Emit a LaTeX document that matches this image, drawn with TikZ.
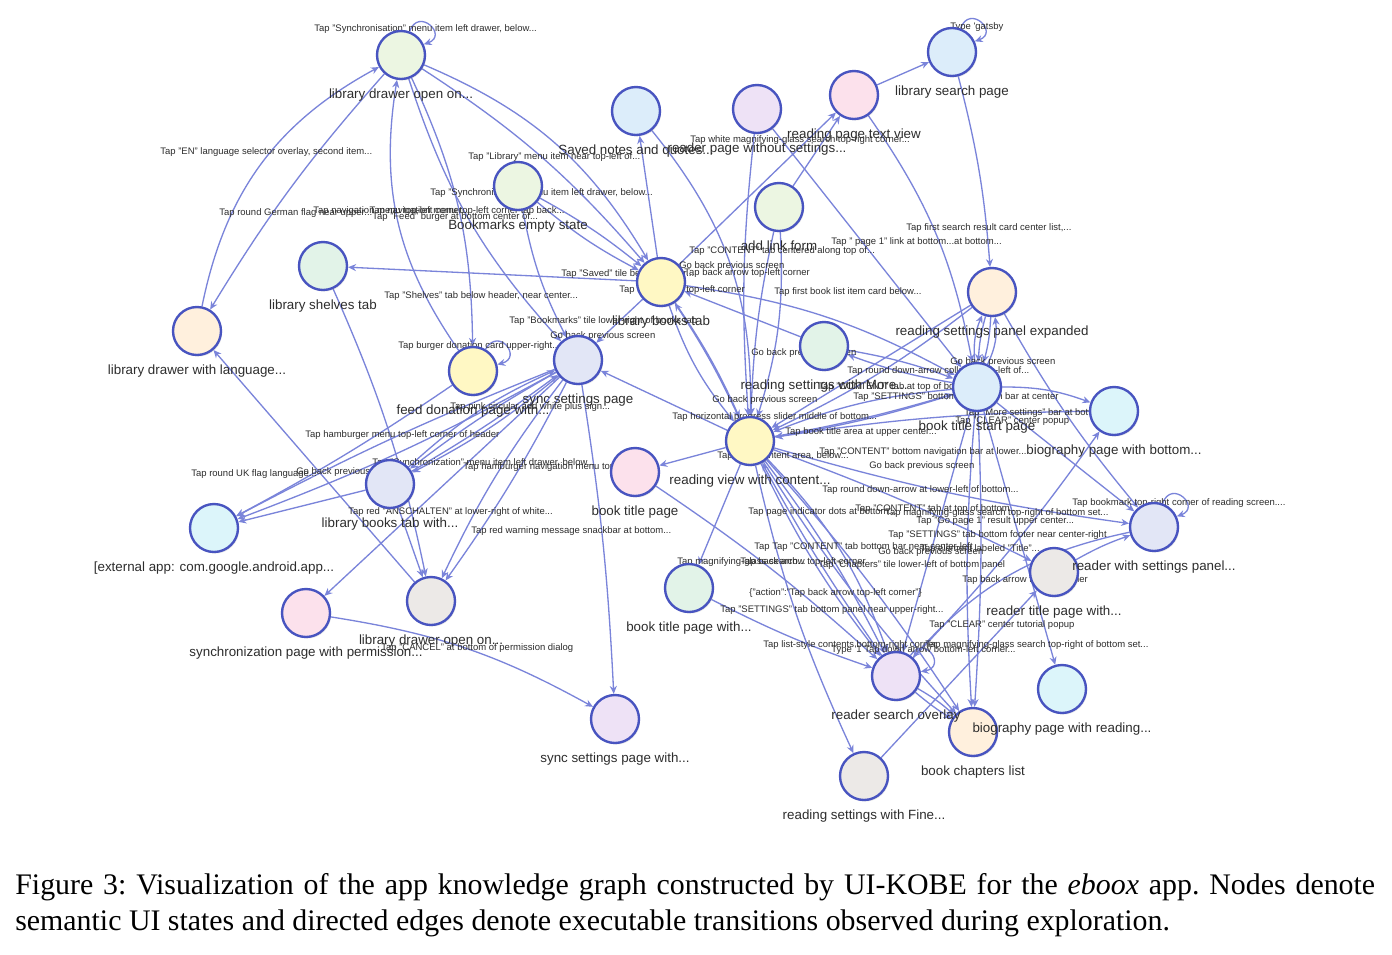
\documentclass[tikz,border=0pt]{standalone}
\usepackage{fontspec}
\setmainfont{Liberation Serif}
\setsansfont{Liberation Sans}
\usetikzlibrary{arrows.meta,positioning,backgrounds,shadows}
\definecolor{edgecol}{RGB}{122,132,218}
\definecolor{nodeborder}{RGB}{72,84,192}
\definecolor{txtgray}{RGB}{45,45,45}
\definecolor{fgreen}{RGB}{236,246,226}
\definecolor{fblue}{RGB}{220,237,250}
\definecolor{flav}{RGB}{238,226,246}
\definecolor{fpink}{RGB}{252,225,236}
\definecolor{fmint}{RGB}{226,243,232}
\definecolor{fyellow}{RGB}{255,248,196}
\definecolor{fpeach}{RGB}{255,240,221}
\definecolor{fperi}{RGB}{226,230,246}
\definecolor{fcyan}{RGB}{220,245,250}
\definecolor{fgrey}{RGB}{236,233,231}

\begin{document}
\begin{tikzpicture}[
    x=0.02cm, y=-0.02cm,
    state/.style={circle, draw=nodeborder, line width=1.35pt, fill=#1, minimum size=0.96cm, inner sep=0pt,
        drop shadow={opacity=0.18, shadow xshift=0.7pt, shadow yshift=-0.9pt}},
    nlab/.style={font=\sffamily\fontsize{7.6}{8}\selectfont, text=txtgray, inner sep=0pt, label distance=4.6pt},
    elab/.style={font=\sffamily\fontsize{5.4}{6}\selectfont, text=txtgray, inner sep=0pt, anchor=west},
    tr/.style={draw=edgecol, line width=0.75pt, -{Stealth[length=4.5pt,width=4pt]}},
    selfloop/.style={tr, looseness=3.5}
]
\useasboundingbox (0,0) rectangle (1392,954);

% States
\node[state=fgreen, label={[nlab]below:{library drawer open on...}}] (drawerA) at (401,55) {};
\node[state=fblue, label={[nlab]below:{Saved notes and quotes...}}] (saved) at (636,111) {};
\node[state=flav, label={[nlab]below:{reader page without settings...}}] (readerNS) at (757,109) {};
\node[state=fpink, label={[nlab]below:{reading page text view}}] (textV) at (854,95) {};
\node[state=fblue, label={[nlab]below:{library search page}}] (searchP) at (952,52) {};
\node[state=fgreen, label={[nlab]below:{Bookmarks empty state}}] (bookmk) at (518,186) {};
\node[state=fgreen, label={[nlab]below:{add link form}}] (addlink) at (779,207) {};
\node[state=fmint, label={[nlab]below:{library shelves tab}}] (shelves) at (323,266) {};
\node[state=fyellow, label={[nlab]below:{library books tab}}] (booksT) at (661,282) {};
\node[state=fpeach, label={[nlab]below:{reading settings panel expanded}}] (panelX) at (992,292) {};
\node[state=fpeach, label={[nlab]below:{library drawer with language...}}] (drawerLang) at (197,331) {};
\node[state=fmint, label={[nlab]below:{reading settings with More...}}] (setMore) at (824,346) {};
\node[state=fperi, label={[nlab]below:{sync settings page}}] (syncS) at (578,360) {};
\node[state=fyellow, label={[nlab]below:{feed donation page with...}}] (donate) at (473,371) {};
\node[state=fblue, label={[nlab]below:{book title start page}}] (titleStart) at (977,387) {};
\node[state=fcyan, label={[nlab]below:{biography page with bottom...}}] (bioBottom) at (1114,411) {};
\node[state=fyellow, label={[nlab]below:{reading view with content...}}] (readView) at (750,441) {};
\node[state=fpink, label={[nlab]below:{book title page}}] (titleP) at (635,472) {};
\node[state=fperi, label={[nlab]below:{library books tab with...}}] (booksWith) at (390,484) {};
\node[state=fcyan, label={[nlab]below:{[external app: com.google.android.app...}}] (extApp) at (214,528) {};
\node[state=fgrey, label={[nlab]below:{reader title page with...}}] (readerTitle) at (1054,572) {};
\node[state=fperi, label={[nlab]below:{reader with settings panel...}}] (readerSet) at (1154,527) {};
\node[state=fmint, label={[nlab]below:{book title page with...}}] (titleWith) at (689,588) {};
\node[state=fpink, label={[nlab]below:{synchronization page with permission...}}] (syncPerm) at (306,613) {};
\node[state=fgrey, label={[nlab]below:{library drawer open on...}}] (drawerB) at (431,601) {};
\node[state=fpeach, label={[nlab]below:{book chapters list}}] (chapters) at (973,732) {};
\node[state=flav, label={[nlab]below:{reader search overlay}}] (searchOv) at (896,676) {};
\node[state=fcyan, label={[nlab]below:{biography page with reading...}}] (bioRead) at (1062,689) {};
\node[state=flav, label={[nlab]below:{sync settings page with...}}] (syncWith) at (615,719) {};
\node[state=fgrey, label={[nlab]below:{reading settings with Fine...}}] (setFine) at (864,776) {};

\begin{scope}[on background layer]
\fill[white] (0,0) rectangle (1392,954);

% Transitions, upper left
\draw[selfloop] (drawerA.70) to[out=70, in=20] (drawerA.25);
\draw[tr] (drawerLang) to[bend left=25] (drawerA);
\draw[tr] (drawerA) to[bend right=5] (drawerLang);
\draw[tr] (donate) to[bend left=22] (drawerA);
\draw[tr] (drawerA) to[bend left=12] (donate);
\draw[tr] (drawerA) to[bend right=12] (syncS);
\draw[tr] (drawerA) to[bend left=8] (booksT);
\draw[tr] (drawerA) to[bend left=18] (booksT);
\draw[tr] (bookmk) to[bend left=5] (booksT);
\draw[tr] (bookmk) to[bend right=6] (booksT);
\draw[tr] (bookmk) to[bend right=8] (syncS);
\draw[tr] (booksT) -- (saved);
\draw[tr] (saved) to[bend left=20] (readView);
\draw[tr] (readerNS) to[bend right=5] (readView);
\draw[tr] (readerNS) -- (titleStart);
\draw[tr] (booksT) -- (textV);
\draw[tr] (addlink) -- (textV);
\draw[tr] (textV) -- (searchP);
\draw[selfloop] (searchP.70) to[out=70, in=20] (searchP.25);
\draw[tr] (searchP) to[bend left=5] (panelX);
\draw[tr] (textV) to[bend left=12] (titleStart);
\draw[tr] (addlink) to[bend right=5] (readView);
\draw[tr] (addlink) to[bend left=10] (readView);
\draw[tr] (booksT) -- (shelves);
\draw[tr] (booksT) -- (syncS);
\draw[tr] (booksT) to[bend left=5] (readView);
\draw[tr] (booksT) to[bend right=10] (readView);
\draw[tr] (readView) to[bend right=4] (booksT);
\draw[tr] (booksT) to[bend left=10] (titleStart);
\draw[tr] (setMore) -- (booksT);

% Transitions, right
\draw[tr] (titleStart) to[bend left=5] (setMore);
\draw[tr] (setMore) to[bend left=5] (titleStart);
\draw[tr] (panelX) to[bend left=6] (titleStart);
\draw[tr] (panelX) to[bend right=6] (titleStart);
\draw[tr] (titleStart) to[bend left=14] (panelX);
\draw[tr] (titleStart) to[bend right=16] (panelX);
\draw[tr] (panelX) -- (readView);
\draw[tr] (panelX) to[bend left=6] (readView);
\draw[tr] (panelX) to[bend right=5] (readerSet);
\draw[tr] (titleStart) to[bend left=10] (bioBottom);
\draw[tr] (bioBottom) to[bend right=4] (readView);
\draw[tr] (searchOv) to[bend right=4] (bioBottom);
\draw[tr] (titleStart) to[bend left=4] (readView);
\draw[tr] (titleStart) to[bend right=8] (readView);
\draw[tr] (readView) to[bend right=3] (titleStart);
\draw[tr] (readView) to[bend right=4] (readerSet);
\draw[tr] (readView) to[bend left=3] (readerTitle);
\draw[tr] (readerTitle) to[bend left=5] (readerSet);
\draw[tr] (titleStart) -- (readerSet);
\draw[selfloop] (readerSet.70) to[out=70, in=20] (readerSet.25);
\draw[tr] (readerSet) to[bend right=18] (searchOv);
\draw[tr] (titleStart) to[bend left=3] (chapters);
\draw[tr] (titleStart) to[bend right=4] (chapters);
\draw[tr] (titleStart) -- (bioRead);
\draw[tr] (titleStart) -- (searchOv);

% Transitions, lower middle
\draw[tr] (readView) -- (syncS);
\draw[tr] (readView) -- (titleP);
\draw[tr] (readView) to[bend left=5] (searchOv);
\draw[tr] (readView) to[bend right=6] (searchOv);
\draw[tr] (readView) to[bend left=12] (searchOv);
\draw[tr] (searchOv) to[bend left=3] (readView);
\draw[tr] (readView) to[bend left=4] (chapters);
\draw[tr] (readView) to[bend right=5] (chapters);
\draw[tr] (readView) to[bend right=6] (setFine);
\draw[tr] (setFine) -- (readerTitle);
\draw[tr] (readView) -- (titleWith);
\draw[tr] (titleWith) to[bend right=4] (searchOv);
\draw[tr] (titleP) to[bend left=4] (searchOv);
\draw[tr] (searchOv) to[bend left=6] (chapters);
\draw[tr] (searchOv) to[bend right=4] (chapters);
\draw[selfloop] (searchOv.55) to[out=55, in=10] (searchOv.10);

% Transitions, lower left
\draw[selfloop] (donate.60) to[out=60, in=15] (donate.15);
\draw[tr] (syncS) to[bend left=4] (extApp);
\draw[tr] (syncS) to[bend right=3] (extApp);
\draw[tr] (booksWith) -- (extApp);
\draw[tr] (donate) to[bend left=3] (extApp);
\draw[tr] (syncS) to[bend right=4] (booksWith);
\draw[tr] (syncS) to[bend left=6] (booksWith);
\draw[tr] (booksWith) to[bend right=3] (syncS);
\draw[tr] (booksWith) to[bend left=9] (syncS);
\draw[tr] (syncS) -- (syncPerm);
\draw[tr] (syncS) to[bend left=4] (drawerB);
\draw[tr] (syncS) to[bend right=6] (drawerB);
\draw[tr] (booksWith) -- (drawerB);
\draw[tr] (drawerB) -- (drawerLang);
\draw[tr] (shelves) to[bend left=6] (drawerB);
\draw[tr] (syncPerm) to[bend left=10] (syncWith);
\draw[tr] (syncS) to[bend left=3] (syncWith);

% Labels
\node[elab] (l1) at (314,29) {Tap "Synchronisation" menu item left drawer, below...};
\node[elab] (l2) at (950,27) {Type \textquotesingle gatsby};
\node[elab] (l3) at (690,140) {Tap white magnifying-glass search top-right corner...};
\node[elab] (l4) at (160,152) {Tap "EN" language selector overlay, second item...};
\node[elab] (l5) at (468,157) {Tap "Library" menu item near top-left of...};
\node[elab] (l6) at (430,193) {Tap "Synchronisation" menu item left drawer, below...};
\node[elab] (l7) at (313,211) {Tap navigation menu top-left corner...};
\node[elab, anchor=east] (l7b) at (565,211) {Tap navigation menu top-left corner tap back...};
\node[elab] (l8) at (219,213) {Tap round German flag near upper...};
\node[elab] (l9) at (372,217) {Tap "Feed" burger at bottom center of...};
\node[elab] (l10) at (906,228) {Tap first search result card center list,...};
\node[elab] (l11) at (831,242) {Tap " page 1" link at bottom...at bottom...};
\node[elab] (l12) at (689,251) {Tap "CONTENT" tab centered along top of...};
\node[elab] (l13) at (679,266) {Go back previous screen};
\node[elab] (l14) at (684,273) {Tap back arrow top-left corner};
\node[elab] (l15) at (561,274) {Tap "Saved" tile below header...};
\node[elab] (l16) at (384,296) {Tap "Shelves" tab below header, near center...};
\node[elab] (l17) at (619,290) {Tap back arrow top-left corner};
\node[elab] (l18) at (774,292) {Tap first book list item card below...};
\node[elab] (l19) at (509,321) {Tap "Bookmarks" tile lower-right of books tab};
\node[elab] (l20) at (550,336) {Go back previous screen};
\node[elab] (l21) at (398,346) {Tap burger donation card upper-right...};
\node[elab] (l22) at (751,353) {Go back previous screen};
\node[elab] (l23) at (847,371) {Tap round down-arrow collapse top-left of...};
\node[elab] (l24) at (950,362) {Go back previous screen};
\node[elab] (l25) at (818,387) {Tap "CONTENT" tab at top of bottom...};
\node[elab] (l26) at (853,397) {Tap "SETTINGS" bottom navigation bar at center};
\node[elab] (l27) at (964,413) {Tap "More settings" bar at bottom...};
\node[elab] (l28) at (955,421) {Tap "CLEAR" center popup};
\node[elab] (l29) at (672,417) {Tap horizontal progress slider middle of bottom...};
\node[elab] (l30) at (785,432) {Tap book title area at upper center...};
\node[elab] (l31) at (712,400) {Go back previous screen};
\node[elab] (l32) at (819,452) {Tap "CONTENT" bottom navigation bar at lower...};
\node[elab] (l33) at (717,456) {Tap book content area, below...};
\node[elab] (l34) at (869,466) {Go back previous screen};
\node[elab] (l35) at (822,490) {Tap round down-arrow at lower-left of bottom...};
\node[elab] (l36) at (748,512) {Tap page indicator dots at bottom...};
\node[elab] (l37) at (855,509) {Tap "CONTENT" tab at top of bottom...};
\node[elab] (l38) at (885,513) {Tap magnifying-glass search top-right of bottom set...};
\node[elab] (l39) at (916,521) {Tap "Go page 1" result upper center...};
\node[elab] (l40) at (888,535) {Tap "SETTINGS" tab bottom footer near center-right};
\node[elab] (l41) at (754,547) {Tap Tap "CONTENT" tab bottom bar near center-left};
\node[elab, anchor=east] (l41b) at (1040,549) {Tap element labeled "Title"...};
\node[elab] (l42) at (878,552) {Go back previous screen};
\node[elab] (l43) at (818,565) {Tap "Chapters" tile lower-left of bottom panel};
\node[elab] (l44) at (962,580) {Tap back arrow top-left corner};
\node[elab] (l45) at (677,562) {Tap magnifying-glass search...};
\node[elab] (l45b) at (740,562) {Tap back arrow top-left corner};
\node[elab] (l46) at (749,593) {\{"action":"Tap back arrow top-left corner"\}};
\node[elab] (l47) at (720,610) {Tap "SETTINGS" tab bottom panel near upper-right...};
\node[elab] (l48) at (929,625) {Tap "CLEAR" center tutorial popup};
\node[elab] (l49) at (763,645) {Tap list-style contents bottom-right corner};
\node[elab] (l50) at (925,645) {Tap magnifying-glass search top-right of bottom set...};
\node[elab] (l51) at (831,650) {Type \textquotesingle 1 Tap down arrow bottom-left corner...};
\node[elab] (l52) at (1072,503) {Tap bookmark top-right corner of reading screen....};
\node[elab] (l53) at (372,463) {Tap "Synchronization" menu item left drawer, below...};
\node[elab] (l54) at (463,467) {Tap hamburger navigation menu top-left...};
\node[elab] (l55) at (296,472) {Go back previous screen};
\node[elab] (l56) at (191,474) {Tap round UK flag language...};
\node[elab] (l57) at (305,435) {Tap hamburger menu top-left corner of header};
\node[elab] (l58) at (450,407) {Tap pink circular add white plus sign...};
\node[elab] (l59) at (348,512) {Tap red "ANSCHALTEN" at lower-right of white...};
\node[elab] (l60) at (471,531) {Tap red warning message snackbar at bottom...};
\node[elab] (l61) at (381,648) {Tap "CANCEL" at bottom of permission dialog};
\end{scope}

% Caption
\node[anchor=north west, inner sep=0pt, text width=774pt, align=justify,
      font=\fontsize{17}{20.8}\selectfont\frenchspacing] (caption) at (15,873)
  {Figure 3: Visualization of the app knowledge graph constructed by UI-KOBE for the \emph{eboox} app. Nodes denote\linebreak
   semantic UI states and directed edges denote executable transitions observed during exploration.};
\end{tikzpicture}
\end{document}
